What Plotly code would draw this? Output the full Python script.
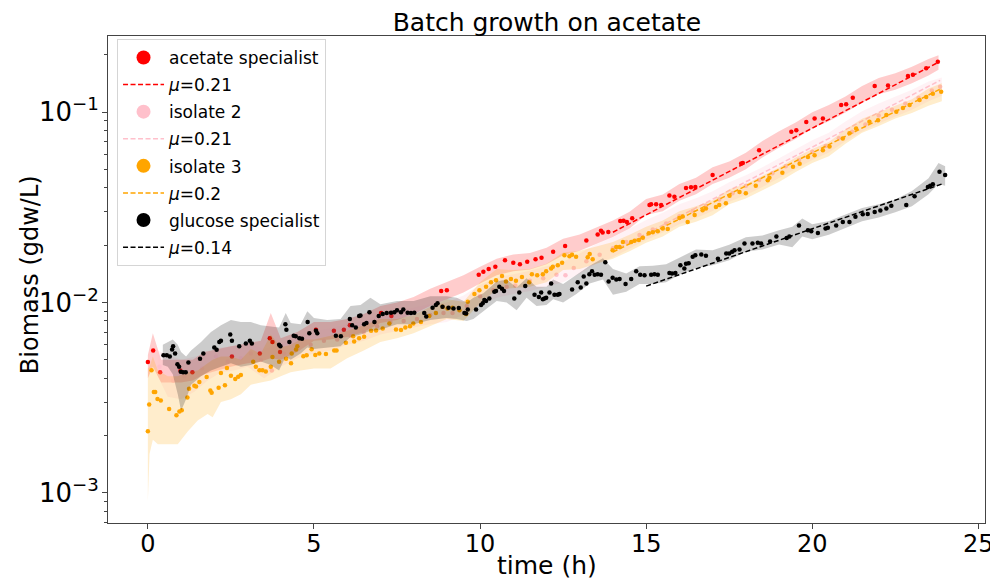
import plotly.graph_objects as go

# ---------------- data ----------------
# acetate specialist (red)
red_t = [0.0,0.16,0.37,0.98,1.34,2.53,3.37,3.67,3.75,3.98,5.06,5.6,5.9,6.08,7.02,7.33,8.83,9.0,9.96,10.1,
         10.26,10.46,10.75,11.0,11.2,11.42,11.67,11.85,12.2,12.56,13.2,13.54,13.64,13.69,13.86,14.22,14.32,14.42,14.58,15.1,
         15.15,15.3,15.45,15.7,15.85,16.2,16.35,16.48,17.0,17.86,17.91,18.4,19.37,19.52,19.82,20.07,20.32,20.87,21.02,21.22,
         21.88,22.28,22.88,23.03,23.43,23.78]
red_v = [0.00487,0.0056,0.0043,0.0044,0.0043,0.0052,0.0054,0.0065,0.0062,0.0055,0.0072,0.0071,0.0072,0.0076,0.0088,0.0085,0.0115,0.0116,0.0140,0.0145,
         0.0150,0.0154,0.0167,0.0162,0.0159,0.0164,0.0169,0.0172,0.0185,0.0198,0.0212,0.0228,0.0238,0.0233,0.0235,0.0268,0.0269,0.0265,0.0277,0.0325,
         0.0328,0.0328,0.0325,0.0365,0.0360,0.0400,0.0403,0.0405,0.0467,0.0537,0.0540,0.0631,0.0788,0.0804,0.0889,0.0927,0.0927,0.109,0.110,0.119,
         0.137,0.138,0.155,0.157,0.170,0.184]
red_band_t = [0.0,0.15,0.4,0.7,1.0,1.35,1.7,2.1,2.5,3.0,3.4,3.7,4.0,4.5,5.0,5.5,6.0,6.5,7.0,7.5,
              8.0,8.5,9.0,9.5,10.0,10.5,11.0,11.5,12.0,12.5,13.0,13.5,14.0,14.5,15.0,15.5,16.0,16.5,17.0,17.5,
              18.0,18.5,19.0,19.5,20.0,20.5,21.0,21.5,22.0,22.5,23.0,23.5,23.8]
red_lo = [0.0040,0.0046,0.0038,0.0038,0.0038,0.0039,0.0042,0.0044,0.0046,0.0048,0.0049,0.0051,0.0050,0.0055,0.0063,0.0064,0.0066,0.0070,0.0078,0.0081,
          0.0087,0.0096,0.0104,0.0113,0.0126,0.0139,0.0146,0.0149,0.0159,0.0177,0.0187,0.0203,0.0221,0.0245,0.0288,0.0302,0.0343,0.0370,0.0420,0.0452,
          0.0502,0.0578,0.0651,0.0723,0.0823,0.0895,0.0995,0.112,0.124,0.131,0.142,0.156,0.167]
red_hi = [0.0053,0.0069,0.0050,0.0050,0.0050,0.0050,0.0055,0.0057,0.0059,0.0061,0.0063,0.0088,0.0065,0.0070,0.0079,0.0079,0.0082,0.0087,0.0096,0.0100,
          0.0107,0.0118,0.0128,0.0139,0.0154,0.0170,0.0179,0.0182,0.0194,0.0216,0.0228,0.0248,0.0270,0.0300,0.0350,0.0369,0.0419,0.0452,0.0513,0.0551,
          0.0612,0.0706,0.0794,0.0882,0.100,0.109,0.121,0.137,0.151,0.160,0.173,0.190,0.199]
red_fit_t = [14.0, 23.8]
red_fit_v = [0.0234, 0.183]

# isolate 2 (pink)
pink_t = [0.35,0.76,1.1,1.63,2.05,2.4,2.8,3.1,3.4,3.73,4.1,4.5,4.9,5.3,5.7,6.1,6.5,6.9,7.3,7.7,
          8.1,8.5,8.9,9.17,9.6,10.0,10.4,10.8,11.06,11.5,11.9,12.3,12.57,12.82,13.2,13.6,14.0,14.4,14.8,15.2,
          15.6,16.0,16.4,16.8,17.2,17.6,18.0,18.4,18.8,19.2,19.6,20.0,20.4,20.8,21.2,21.6,22.0,22.4,22.8,23.2,
          23.6,23.85]
pink_v = [0.0046,0.0039,0.0041,0.0045,0.0052,0.0049,0.0051,0.0054,0.0050,0.0044,0.0054,0.0057,0.0060,0.0063,0.0064,0.0067,0.0070,0.0075,0.0079,0.0080,
          0.0082,0.0086,0.0088,0.0088,0.0096,0.0108,0.0116,0.0121,0.0123,0.0130,0.0134,0.0140,0.0139,0.0152,0.0165,0.0178,0.0193,0.0208,0.0226,0.0242,
          0.0260,0.0284,0.0303,0.0322,0.0348,0.0375,0.0410,0.0440,0.0478,0.0520,0.0560,0.0620,0.0665,0.0730,0.0790,0.0860,0.0960,0.103,0.111,0.119,
          0.130,0.136]
pink_band_t = [0.3,0.6,1.0,1.4,1.8,2.2,2.6,3.0,3.5,4.0,4.5,5.0,5.5,6.0,6.5,7.0,7.5,8.0,8.5,9.0,
               9.5,10.0,10.5,11.0,11.5,12.0,12.5,13.0,13.5,14.0,14.5,15.0,15.5,16.0,16.5,17.0,17.5,18.0,18.5,19.0,
               19.5,20.0,20.5,21.0,21.5,22.0,22.5,23.0,23.5,23.9]
pink_lo = [0.0041,0.0032,0.0031,0.0034,0.0039,0.0043,0.0044,0.0046,0.0040,0.0046,0.0051,0.0054,0.0056,0.0060,0.0063,0.0068,0.0071,0.0074,0.0077,0.0079,
           0.0086,0.0097,0.0106,0.0111,0.0115,0.0121,0.0128,0.0142,0.0160,0.0173,0.0192,0.0213,0.0233,0.0258,0.0278,0.0303,0.0338,0.0367,0.0405,0.0450,
           0.0503,0.0561,0.0614,0.0703,0.0792,0.0872,0.0952,0.103,0.114,0.122]
pink_hi = [0.0056,0.0053,0.0050,0.0052,0.0054,0.0058,0.0059,0.0061,0.0057,0.0061,0.0066,0.0071,0.0073,0.0077,0.0080,0.0087,0.0090,0.0094,0.0098,0.0100,
           0.0109,0.0124,0.0135,0.0141,0.0147,0.0155,0.0164,0.0181,0.0203,0.0220,0.0244,0.0271,0.0296,0.0328,0.0353,0.0384,0.0429,0.0466,0.0514,0.0571,
           0.0638,0.0712,0.0780,0.0893,0.101,0.111,0.121,0.131,0.145,0.152]
pink_fit_t = [14.0, 23.85]
pink_fit_v = [0.0186, 0.147]

# isolate 3 (orange)
orange_t = [0.0,0.04,0.11,0.18,0.22,0.29,0.39,0.64,0.86,0.95,1.02,1.19,1.24,1.40,1.45,1.55,1.77,1.88,1.92,2.13,
            2.20,2.32,2.38,2.50,2.63,2.72,2.80,3.17,3.25,3.36,3.45,3.55,3.70,3.75,3.95,4.16,4.31,4.33,4.46,4.50,
            4.68,4.78,4.93,5.04,5.16,5.36,5.61,5.68,5.96,6.18,6.21,6.36,6.51,6.72,6.87,7.07,7.27,7.47,7.62,7.75,
            7.89,7.99,8.22,8.47,8.67,8.87,9.02,9.17,9.38,9.58,9.63,9.83,9.98,10.18,10.33,10.48,10.66,10.78,10.93,11.08,
            11.26,11.48,11.56,11.72,11.89,11.99,12.14,12.19,12.34,12.47,12.54,12.69,12.77,12.89,13.24,13.30,13.39,13.99,14.10,14.20,
            14.30,14.55,14.65,14.78,14.90,15.08,15.20,15.35,15.50,15.65,16.00,16.10,16.25,16.46,16.70,16.80,17.10,17.20,17.40,17.51,
            17.81,18.00,18.30,18.66,18.71,19.10,19.42,19.62,19.87,20.07,20.32,20.52,20.92,21.12,21.32,21.72,21.98,22.23,22.53,22.73,
            22.93,23.23,23.43,23.63,23.88]
orange_v = [0.00211,0.00291,0.00441,0.00339,0.00339,0.00311,0.00306,0.00276,0.00256,0.00268,0.00272,0.00317,0.00353,0.00366,0.00362,0.00383,0.00406,0.00345,0.00336,0.00357,
            0.00427,0.00368,0.00453,0.00413,0.00397,0.00408,0.00416,0.00488,0.00460,0.00441,0.00441,0.00434,0.00460,0.00518,0.00488,0.00507,0.00480,0.00540,0.00566,0.00590,
            0.00523,0.00528,0.00569,0.00530,0.00540,0.00537,0.00560,0.00560,0.00614,0.00665,0.00625,0.00650,0.00662,0.00710,0.00714,0.00730,0.00776,0.00721,0.00718,0.00740,
            0.00750,0.00776,0.00790,0.00850,0.00880,0.00950,0.00930,0.00940,0.00910,0.00870,0.0101,0.0111,0.0116,0.0121,0.0128,0.0131,0.0138,0.0129,0.0133,0.0130,
            0.0136,0.0128,0.0141,0.0139,0.0141,0.0146,0.0151,0.0154,0.0157,0.0162,0.0177,0.0175,0.0178,0.0174,0.0173,0.0180,0.0169,0.0188,0.0196,0.0196,
            0.0208,0.0208,0.0211,0.0213,0.0219,0.0231,0.0234,0.0237,0.0245,0.0243,0.0278,0.0283,0.0265,0.0288,0.0305,0.0312,0.0318,0.0325,0.0332,0.0364,
            0.0381,0.0375,0.0410,0.0439,0.0452,0.0480,0.0516,0.0536,0.0582,0.0594,0.0631,0.0660,0.0727,0.0775,0.0821,0.0890,0.0908,0.0965,0.1005,0.105,
            0.109,0.116,0.120,0.125,0.128]
orange_band_t = [0.0,0.05,0.15,0.3,0.6,0.9,1.2,1.5,1.8,1.95,2.2,2.5,2.8,3.1,3.4,3.7,4.0,4.3,4.6,5.0,
                 5.5,6.0,6.5,7.0,7.5,8.0,8.5,9.0,9.5,10.0,10.5,11.0,11.5,12.0,12.5,13.0,13.5,14.0,14.5,15.0,
                 15.5,16.0,16.5,17.0,17.5,18.0,18.5,19.0,19.5,20.0,20.5,21.0,21.5,22.0,22.5,23.0,23.5,23.9]
orange_lo = [0.00090,0.0016,0.0019,0.0018,0.0018,0.0018,0.0021,0.0024,0.0026,0.0025,0.0030,0.0031,0.0033,0.0037,0.0038,0.0039,0.0041,0.0043,0.0044,0.0045,
             0.0045,0.0051,0.0056,0.0062,0.0065,0.0069,0.0075,0.0082,0.0080,0.0099,0.0117,0.0119,0.0121,0.0128,0.0148,0.0150,0.0160,0.0170,0.0186,0.0206,
             0.0222,0.0250,0.0266,0.0287,0.0328,0.0352,0.0389,0.0430,0.0485,0.0541,0.0587,0.0683,0.0780,0.0845,0.0927,0.0990,0.108,0.114]
orange_hi = [0.0045,0.0046,0.0052,0.0044,0.0041,0.0041,0.0043,0.0044,0.0048,0.0050,0.0052,0.0052,0.0050,0.0057,0.0054,0.0068,0.0058,0.0060,0.0064,0.0064,
             0.0067,0.0071,0.0076,0.0082,0.0082,0.0086,0.0095,0.0104,0.0101,0.0128,0.0150,0.0148,0.0150,0.0160,0.0183,0.0187,0.0197,0.0208,0.0227,0.0250,
             0.0270,0.0302,0.0320,0.0345,0.0394,0.0420,0.0463,0.0512,0.0577,0.0641,0.0696,0.0810,0.0922,0.0998,0.109,0.117,0.133,0.142]
orange_fit_t = [14.0, 23.85]
orange_fit_v = [0.0184, 0.132]

# glucose specialist (black)
black_t = [0.47,0.57,0.66,0.73,0.76,0.82,0.89,0.94,0.99,1.06,1.14,1.22,1.57,1.67,2.00,2.07,2.15,2.20,2.48,2.53,
           2.75,2.95,3.07,3.13,3.95,3.99,4.14,4.17,4.26,4.39,4.45,4.56,4.64,4.81,4.86,5.06,5.10,5.66,5.81,6.08,
           6.15,6.26,6.36,6.40,6.51,6.58,6.67,6.82,6.95,7.07,7.19,7.32,7.42,7.50,7.62,7.69,7.82,7.92,8.02,8.32,
           8.38,8.57,8.67,8.72,8.87,9.05,9.20,9.36,9.53,9.58,9.63,9.88,10.03,10.08,10.13,10.18,10.28,10.43,10.48,10.58,
           10.66,10.72,11.03,11.18,11.36,11.64,11.77,11.84,11.89,11.94,11.99,12.09,12.14,12.24,12.34,12.39,12.77,12.94,13.03,13.12,
           13.20,13.29,13.37,13.45,13.54,13.64,13.77,13.87,13.99,14.10,14.20,14.38,14.55,14.70,14.82,14.95,15.15,15.25,15.35,15.70,
           15.78,15.88,16.03,16.15,16.20,16.28,16.40,16.48,16.66,16.80,17.16,17.41,17.50,17.59,17.66,17.81,17.96,18.20,18.36,18.46,
           18.73,18.92,19.23,19.31,19.60,19.87,19.97,20.17,20.40,20.47,20.72,20.92,21.12,21.30,21.52,21.67,21.88,22.05,22.23,22.38,
           22.83,23.08,23.48,23.55,23.63,23.83,24.00]
black_v = [0.00528,0.00528,0.00520,0.00567,0.00590,0.00540,0.00474,0.00460,0.00433,0.00430,0.00430,0.00484,0.00507,0.00540,0.00580,0.00565,0.00620,0.00630,0.00680,0.00630,
           0.00590,0.00610,0.00630,0.00610,0.00600,0.00590,0.00770,0.00720,0.00620,0.00670,0.00665,0.00650,0.00645,0.00790,0.00690,0.00710,0.00690,0.00670,0.00665,0.00820,
           0.00760,0.00740,0.00850,0.00855,0.00770,0.00780,0.00890,0.00790,0.00850,0.00870,0.00880,0.00885,0.00890,0.00910,0.00890,0.00920,0.00885,0.00880,0.00885,0.00880,
           0.00845,0.00940,0.00970,0.00990,0.00950,0.00940,0.00930,0.00935,0.00880,0.00875,0.00920,0.00920,0.00970,0.00990,0.01030,0.01020,0.01050,0.01140,0.01150,0.01210,
           0.01180,0.01150,0.01050,0.01130,0.01220,0.01100,0.01070,0.01130,0.01040,0.01050,0.01060,0.01130,0.01260,0.01100,0.01100,0.01110,0.01170,0.01280,0.01200,0.01370,
           0.01260,0.01410,0.01460,0.01400,0.01410,0.01400,0.01630,0.01290,0.01350,0.01320,0.01330,0.01250,0.01330,0.01460,0.01400,0.01390,0.01400,0.01410,0.01400,0.01430,
           0.01420,0.01430,0.01570,0.01510,0.01600,0.01610,0.01740,0.01770,0.01790,0.01760,0.01700,0.01810,0.01810,0.01850,0.01880,0.01900,0.02040,0.02040,0.02060,0.02040,
           0.02090,0.02220,0.02180,0.02220,0.02540,0.02400,0.02370,0.02320,0.02450,0.02470,0.02540,0.02650,0.02650,0.02820,0.02910,0.02920,0.02990,0.03040,0.03120,0.03220,
           0.03250,0.03620,0.04050,0.04100,0.04180,0.04860,0.04670]
black_band_t = [0.45,0.6,0.75,0.9,1.0,1.15,1.3,1.6,1.9,2.2,2.5,2.8,3.1,3.4,3.7,3.95,4.15,4.3,4.6,4.8,
                5.0,5.4,5.8,6.1,6.4,6.7,7.0,7.5,8.0,8.5,9.0,9.3,9.6,9.8,10.1,10.5,10.8,11.1,11.4,11.7,
                12.0,12.2,12.5,12.9,13.3,13.7,14.0,14.4,14.8,15.2,15.6,16.0,16.5,17.0,17.5,18.0,18.5,19.0,19.4,19.7,
                20.0,20.5,21.0,21.5,22.0,22.5,23.0,23.5,23.8,24.0]
black_lo = [0.0047,0.0046,0.0042,0.0033,0.0027,0.0031,0.0037,0.0041,0.0044,0.0046,0.0048,0.0046,0.0047,0.0049,0.0047,0.0044,0.0052,0.0050,0.0054,0.0058,
            0.0057,0.0058,0.0059,0.0066,0.0068,0.0071,0.0072,0.0077,0.0077,0.0081,0.0083,0.0082,0.0080,0.0082,0.0090,0.0102,0.0100,0.0091,0.0106,0.0096,
            0.0097,0.0104,0.0100,0.0111,0.0126,0.0132,0.0110,0.0114,0.0125,0.0125,0.0128,0.0140,0.0152,0.0157,0.0167,0.0185,0.0190,0.0202,0.0195,0.0222,
            0.0215,0.0227,0.0246,0.0267,0.0280,0.0298,0.0320,0.0370,0.0420,0.0410]
black_hi = [0.0060,0.0062,0.0064,0.0060,0.0055,0.0052,0.0056,0.0062,0.0070,0.0076,0.0081,0.0079,0.0079,0.0076,0.0075,0.0074,0.0088,0.0078,0.0077,0.0090,
            0.0083,0.0081,0.0082,0.0096,0.0097,0.0106,0.0098,0.0102,0.0102,0.0108,0.0108,0.0106,0.0100,0.0106,0.0112,0.0129,0.0132,0.0120,0.0134,0.0121,
            0.0121,0.0132,0.0125,0.0140,0.0156,0.0171,0.0150,0.0142,0.0155,0.0156,0.0159,0.0172,0.0190,0.0188,0.0201,0.0220,0.0225,0.0240,0.0250,0.0276,
            0.0258,0.0268,0.0291,0.0314,0.0328,0.0348,0.0385,0.0450,0.0540,0.0520]
black_fit_t = [15.0, 23.9]
black_fit_v = [0.0122, 0.0419]

labels = ["acetate specialist", "isolate 2", "isolate 3", "glucose specialist"]
mu_labels = ["<i>μ</i>=0.21", "<i>μ</i>=0.21", "<i>μ</i>=0.2", "<i>μ</i>=0.14"]

y_tickvals = [0.001, 0.01, 0.1]
y_ticktext = ["10<sup>−3</sup>", "10<sup>−2</sup>", "10<sup>−1</sup>"]
y_minor = [0.0007, 0.0008, 0.0009, 0.002, 0.003, 0.004, 0.005, 0.006, 0.007, 0.008, 0.009,
           0.02, 0.03, 0.04, 0.05, 0.06, 0.07, 0.08, 0.09, 0.2]
x_tickvals = [0, 5, 10, 15, 20, 25]

# ---------------- figure ----------------
series = [
    (red_t, red_v, red_band_t, red_lo, red_hi, red_fit_t, red_fit_v, "#ff0000", "rgba(255,0,0,0.2)"),
    (pink_t, pink_v, pink_band_t, pink_lo, pink_hi, pink_fit_t, pink_fit_v, "#ffc0cb", "rgba(255,192,203,0.2)"),
    (orange_t, orange_v, orange_band_t, orange_lo, orange_hi, orange_fit_t, orange_fit_v, "#ffa500", "rgba(255,165,0,0.2)"),
    (black_t, black_v, black_band_t, black_lo, black_hi, black_fit_t, black_fit_v, "#000000", "rgba(0,0,0,0.2)"),
]

fig = go.Figure()
for i, (t, v, bt, lo, hi, ft, fv, col, fcol) in enumerate(series):
    fig.add_trace(go.Scatter(
        x=list(bt) + list(bt)[::-1], y=list(hi) + list(lo)[::-1],
        fill="toself", fillcolor=fcol, mode="lines", line=dict(width=0),
        showlegend=False, hoverinfo="skip"))
    fig.add_trace(go.Scatter(
        x=t, y=v, mode="markers", marker=dict(color=col, size=4.5),
        showlegend=False, name=labels[i]))
    fig.add_trace(go.Scatter(
        x=ft, y=fv, mode="lines", line=dict(color=col, width=1.5, dash="5px,2.5px"),
        name=mu_labels[i], legendrank=2 * i + 2, legendgroup="fit%d" % i))
    # legend entry for the marker series
    fig.add_trace(go.Scatter(
        x=[None], y=[None], mode="markers", marker=dict(color=col, size=14),
        name=labels[i], legendrank=2 * i + 1, legendgroup="pts%d" % i))

font_family = "DejaVu Sans"
axis_col = "#444444"

fig.update_layout(
    width=990, height=577,
    margin=dict(l=100, r=13, t=28, b=62),
    paper_bgcolor="white", plot_bgcolor="white",
    font=dict(family=font_family, color="black", size=22),
    title=dict(text="Batch growth on acetate", x=0.5444, xanchor="center",
               y=0.9757, yanchor="middle", yref="container",
               font=dict(size=25, family=font_family, color="black")),
    legend=dict(x=0.0103, y=0.994, xanchor="left", yanchor="top",
                bgcolor="rgba(255,255,255,0.8)", bordercolor="#d5d5d5", borderwidth=1,
                font=dict(size=17, family=font_family, color="black"),
                traceorder="grouped", itemwidth=41, tracegroupgap=2),
    showlegend=True,
    annotations=[
        dict(text="time (h)", xref="paper", yref="paper", x=0.5, y=-0.087,
             xanchor="center", yanchor="middle", showarrow=False,
             font=dict(size=25, family=font_family, color="black")),
        dict(text="Biomass (gdw/L)", xref="paper", yref="paper", x=-0.0889, y=0.509,
             xanchor="center", yanchor="middle", showarrow=False, textangle=-90,
             font=dict(size=24, family=font_family, color="black")),
    ],
)
fig.update_xaxes(
    range=[-1.2, 25.2], tickvals=x_tickvals, ticks="outside", ticklen=5, tickwidth=1,
    tickcolor=axis_col, showline=True, linecolor=axis_col, linewidth=1, mirror=True,
    showgrid=False, zeroline=False, tickfont=dict(size=24), automargin=False,
    ticklabelstandoff=-6,
)
fig.update_yaxes(
    type="log", range=[-3.158, -0.6], tickvals=y_tickvals, ticktext=y_ticktext,
    ticks="outside", ticklen=5, tickwidth=1, tickcolor=axis_col,
    showline=True, linecolor=axis_col, linewidth=1, mirror=True,
    showgrid=False, zeroline=False, tickfont=dict(size=26), automargin=False,
    ticklabelstandoff=-2,
    minor=dict(tickvals=y_minor, ticks="outside", ticklen=3, tickcolor=axis_col, showgrid=False),
)

fig.write_html("out.html")
